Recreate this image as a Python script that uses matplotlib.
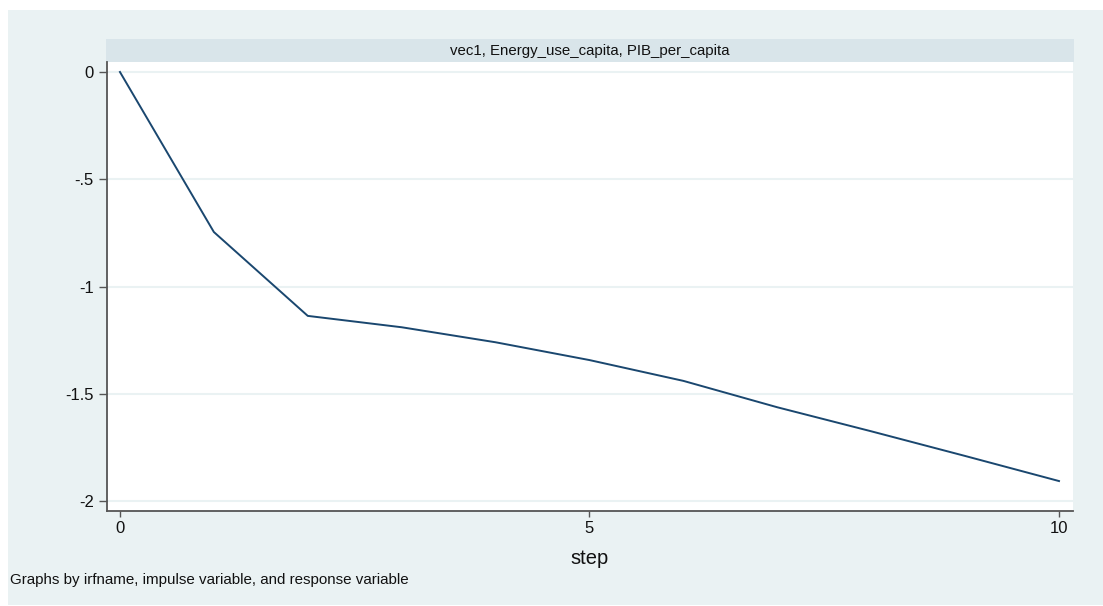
import matplotlib.pyplot as plt
from matplotlib.patches import Rectangle

plt.rcParams["font.family"] = ["Liberation Sans", "DejaVu Sans"]

# impulse response, one value per step
steps = [0, 1, 2, 3, 4, 5, 6, 7, 8, 9, 10]
irf = [0.0, -0.746, -1.137, -1.19, -1.26, -1.343, -1.44, -1.563, -1.675, -1.79, -1.907]

y_ticks = [0, -0.5, -1, -1.5, -2]
y_labels = ["0", "-.5", "-1", "-1.5", "-2"]
x_ticks = [0, 5, 10]

panel_title = "vec1, Energy_use_capita, PIB_per_capita"
note = "Graphs by irfname, impulse variable, and response variable"

W, H = 1103, 606
region_bg = "#eaf2f3"
strip_bg = "#d9e5ea"
navy = "#1a476f"

fig = plt.figure(figsize=(W / 100, H / 100), dpi=100, facecolor="white")

# graph region and by-group strip, kept behind the axes
fig.patches.append(Rectangle((8 / W, 1 / H), 1095 / W, 595 / H,
                             transform=fig.transFigure, facecolor=region_bg,
                             edgecolor="none", zorder=-10))
fig.patches.append(Rectangle((106 / W, (H - 62) / H), 968 / W, 23 / H,
                             transform=fig.transFigure, facecolor=strip_bg,
                             edgecolor="none", zorder=-9))
fig.text(590 / W, (H - 51) / H, panel_title, ha="center", va="center",
         fontsize=10.8, color="#111111")

ax = fig.add_axes([107 / W, (H - 511) / H, 966 / W, 449 / H])
ax.set_facecolor("white")
ax.plot(steps, irf, color=navy, lw=1.4, zorder=3)

ax.set_xlim(-0.138, 10.149)
ax.set_ylim(-2.0466, 0.0466)
ax.set_yticks(y_ticks, labels=y_labels)
ax.set_xticks(x_ticks)
ax.grid(axis="y", color=region_bg, lw=1.5)
ax.set_axisbelow(True)

for side in ("top", "right"):
    ax.spines[side].set_visible(False)
for side in ("left", "bottom"):
    ax.spines[side].set_color("#555555")
    ax.spines[side].set_linewidth(1.3)

ax.tick_params(axis="y", length=6, width=1, color="#555555", labelsize=12,
               pad=3.5, labelcolor="#111111")
ax.tick_params(axis="x", length=4.5, width=1, color="#555555", labelsize=12,
               pad=3, labelcolor="#111111")
ax.set_xlabel("step", fontsize=14.5, color="#111111", labelpad=9)

fig.text(10 / W, (H - 580) / H, note, ha="left", va="center",
         fontsize=10.9, color="#111111")

fig.savefig("out.png", dpi=100, facecolor="white")
